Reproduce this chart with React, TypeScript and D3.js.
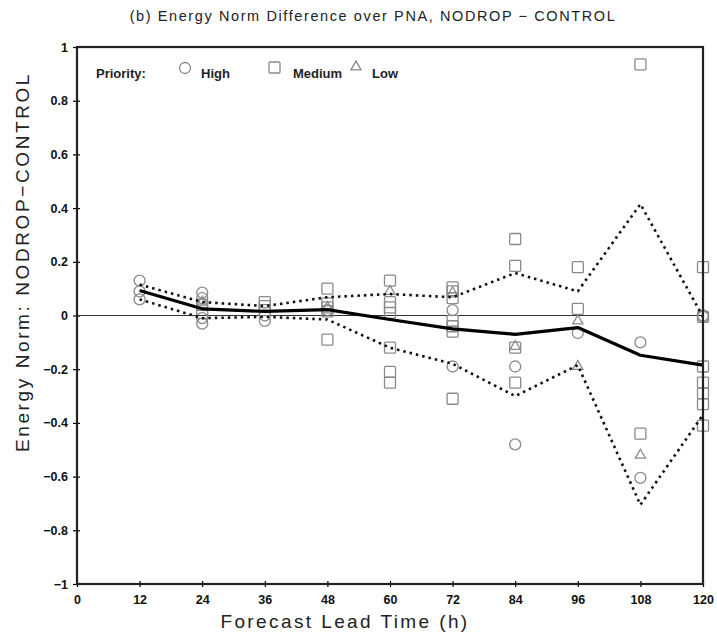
import React, { useEffect, useRef } from 'react';
import * as d3 from 'd3';

// forecast lead times (h)
const leads = [12, 24, 36, 48, 60, 72, 84, 96, 108, 120];
const meanVals = [0.093, 0.025, 0.015, 0.022, -0.015, -0.05, -0.07, -0.045, -0.148, -0.185];
const upperVals = [0.115, 0.05, 0.035, 0.068, 0.08, 0.068, 0.158, 0.09, 0.415, -0.005];
const lowerVals = [0.06, -0.01, -0.005, -0.015, -0.12, -0.18, -0.3, -0.185, -0.705, -0.37];

// individual cases by priority: [lead, value]
const highPts: [number, number][] = [
  [12, 0.13], [12, 0.09], [12, 0.06],
  [24, 0.085], [24, 0.065], [24, -0.01], [24, -0.03],
  [36, 0.0], [36, -0.02],
  [48, 0.02],
  [72, 0.02], [72, -0.19],
  [84, -0.19], [84, -0.48],
  [96, -0.065],
  [108, -0.1], [108, -0.605],
  [120, 0.0], [120, -0.005],
];
const mediumPts: [number, number][] = [
  [24, 0.04], [24, 0.01],
  [36, 0.05], [36, 0.035], [36, 0.02],
  [48, 0.1], [48, 0.045], [48, 0.03], [48, 0.015], [48, -0.09],
  [60, 0.13], [60, 0.05], [60, 0.03], [60, 0.01], [60, -0.12], [60, -0.21], [60, -0.25],
  [72, 0.105], [72, 0.09], [72, 0.065], [72, -0.02], [72, -0.04], [72, -0.06], [72, -0.31],
  [84, 0.285], [84, 0.185], [84, -0.12], [84, -0.25],
  [96, 0.18], [96, 0.025],
  [108, 0.935], [108, -0.44],
  [120, 0.18], [120, -0.005], [120, -0.19], [120, -0.25], [120, -0.29], [120, -0.33], [120, -0.41],
];
const lowPts: [number, number][] = [
  [24, 0.05], [48, 0.03], [60, 0.09], [72, 0.085],
  [84, -0.115], [96, -0.02], [96, -0.19], [108, -0.52],
];

const xTicks = [0, 12, 24, 36, 48, 60, 72, 84, 96, 108, 120];
const yTicks = [-1, -0.8, -0.6, -0.4, -0.2, 0, 0.2, 0.4, 0.6, 0.8, 1];

const App = () => {
  const svgRef = useRef<SVGSVGElement>(null);

  useEffect(() => {
    const W = 717, H = 637;
    const margin = { top: 47, right: 14, bottom: 53, left: 77 };
    const width = W - margin.left - margin.right;
    const height = H - margin.top - margin.bottom;
    const font = "'Liberation Sans', Arial, sans-serif";
    const markColor = '#8a8a8a';

    const root = d3.select(svgRef.current);
    root.selectAll('*').remove();
    root.attr('width', W).attr('height', H).style('background', '#fff');

    const svg = root.append('g').attr('transform', `translate(${margin.left},${margin.top})`);

    const x = d3.scaleLinear().domain([0, 120]).range([0, width]);
    const y = d3.scaleLinear().domain([-1, 1]).range([height, 0]);

    // title
    root.append('text')
      .attr('x', 373).attr('y', 21)
      .attr('text-anchor', 'middle')
      .style('font-family', font).style('font-size', '14.5px')
      .style('letter-spacing', '1.6px')
      .attr('fill', '#222')
      .text('(b) Energy Norm Difference over PNA, NODROP \u2212 CONTROL');

    // axes
    svg.append('g')
      .attr('transform', `translate(0,${height})`)
      .call(d3.axisBottom(x).tickValues(xTicks).tickSize(5).tickPadding(3).tickFormat(d3.format('d')))
      .call(g => g.select('.domain').remove())
      .call(g => g.selectAll('.tick line').attr('stroke', '#000').attr('stroke-width', 1.2).attr('y1', -3).attr('y2', 3))
      .call(g => g.selectAll('.tick text').attr('fill', '#111').style('font-family', font)
        .style('font-size', '12.5px').style('font-weight', 'bold').attr('dy', '0.95em'));

    svg.append('g')
      .call(d3.axisLeft(y).tickValues(yTicks).tickSize(5).tickPadding(4).tickFormat(d => d3.format('')(+d).replace('-', '\u2212')))
      .call(g => g.select('.domain').remove())
      .call(g => g.selectAll('.tick line').attr('stroke', '#000').attr('stroke-width', 1.2).attr('x1', -4).attr('x2', 3))
      .call(g => g.selectAll('.tick text').attr('fill', '#111').style('font-family', font)
        .style('font-size', '12.5px').style('font-weight', 'bold'));

    // axis labels
    root.append('text')
      .attr('x', 345).attr('y', 628)
      .attr('text-anchor', 'middle')
      .style('font-family', font).style('font-size', '19px').style('letter-spacing', '2.4px')
      .attr('fill', '#222')
      .text('Forecast Lead Time (h)');

    root.append('text')
      .attr('transform', 'translate(29,262) rotate(-90)')
      .attr('text-anchor', 'middle')
      .style('font-family', font).style('font-size', '19px').style('letter-spacing', '2.6px')
      .attr('fill', '#222')
      .text('Energy Norm: NODROP\u2212CONTROL');

    // zero line
    svg.append('line')
      .attr('x1', 0).attr('x2', width)
      .attr('y1', y(0)).attr('y2', y(0))
      .attr('stroke', '#333').attr('stroke-width', 1);

    // markers
    const circles = svg.append('g');
    circles.selectAll('circle').data(highPts).join('circle')
      .attr('cx', d => x(d[0])).attr('cy', d => y(d[1]))
      .attr('r', 5.5)
      .attr('fill', 'none').attr('stroke', markColor).attr('stroke-width', 1.3);

    const squares = svg.append('g');
    squares.selectAll('rect').data(mediumPts).join('rect')
      .attr('x', d => x(d[0]) - 5.5).attr('y', d => y(d[1]) - 5.5)
      .attr('width', 11).attr('height', 11).attr('rx', 1)
      .attr('fill', 'none').attr('stroke', markColor).attr('stroke-width', 1.3);

    const tri = d3.symbol().type(d3.symbolTriangle).size(45);
    const tris = svg.append('g');
    tris.selectAll('path').data(lowPts).join('path')
      .attr('transform', d => `translate(${x(d[0])},${y(d[1])})`)
      .attr('d', tri)
      .attr('fill', 'none').attr('stroke', markColor).attr('stroke-width', 1.3);

    // mean and envelope lines
    const line = d3.line<number>()
      .x((_, i) => x(leads[i]))
      .y(d => y(d));

    [upperVals, lowerVals].forEach(vals => {
      svg.append('path')
        .datum(vals)
        .attr('fill', 'none')
        .attr('stroke', '#111')
        .attr('stroke-width', 2.6)
        .attr('stroke-dasharray', '2.5,4')
        .attr('d', line);
    });

    svg.append('path')
      .datum(meanVals)
      .attr('fill', 'none')
      .attr('stroke', '#000')
      .attr('stroke-width', 3.2)
      .attr('stroke-linejoin', 'round')
      .attr('d', line);

    // frame
    svg.append('rect')
      .attr('width', width).attr('height', height)
      .attr('fill', 'none').attr('stroke', '#222').attr('stroke-width', 2.2);

    // legend
    const leg = svg.append('g').attr('transform', 'translate(0,26)');
    const legText = (tx: number, s: string) => leg.append('text')
      .attr('x', tx).attr('y', 0).attr('dy', '0.35em')
      .style('font-family', font).style('font-size', '13px').style('font-weight', 'bold')
      .attr('fill', '#222').text(s);
    legText(19, 'Priority:');
    leg.append('circle').attr('cx', 108).attr('cy', -5).attr('r', 5.5)
      .attr('fill', 'none').attr('stroke', markColor).attr('stroke-width', 1.3);
    legText(124, 'High');
    leg.append('rect').attr('x', 192).attr('y', -11).attr('width', 11).attr('height', 11).attr('rx', 1)
      .attr('fill', 'none').attr('stroke', markColor).attr('stroke-width', 1.3);
    legText(216, 'Medium');
    leg.append('path').attr('transform', 'translate(279,-6)').attr('d', tri)
      .attr('fill', 'none').attr('stroke', markColor).attr('stroke-width', 1.3);
    legText(295, 'Low');
  }, []);

  return (
    <div style={{ position: 'absolute', left: 0, top: 0 }}>
      <svg ref={svgRef}></svg>
    </div>
  );
};

export default App;
